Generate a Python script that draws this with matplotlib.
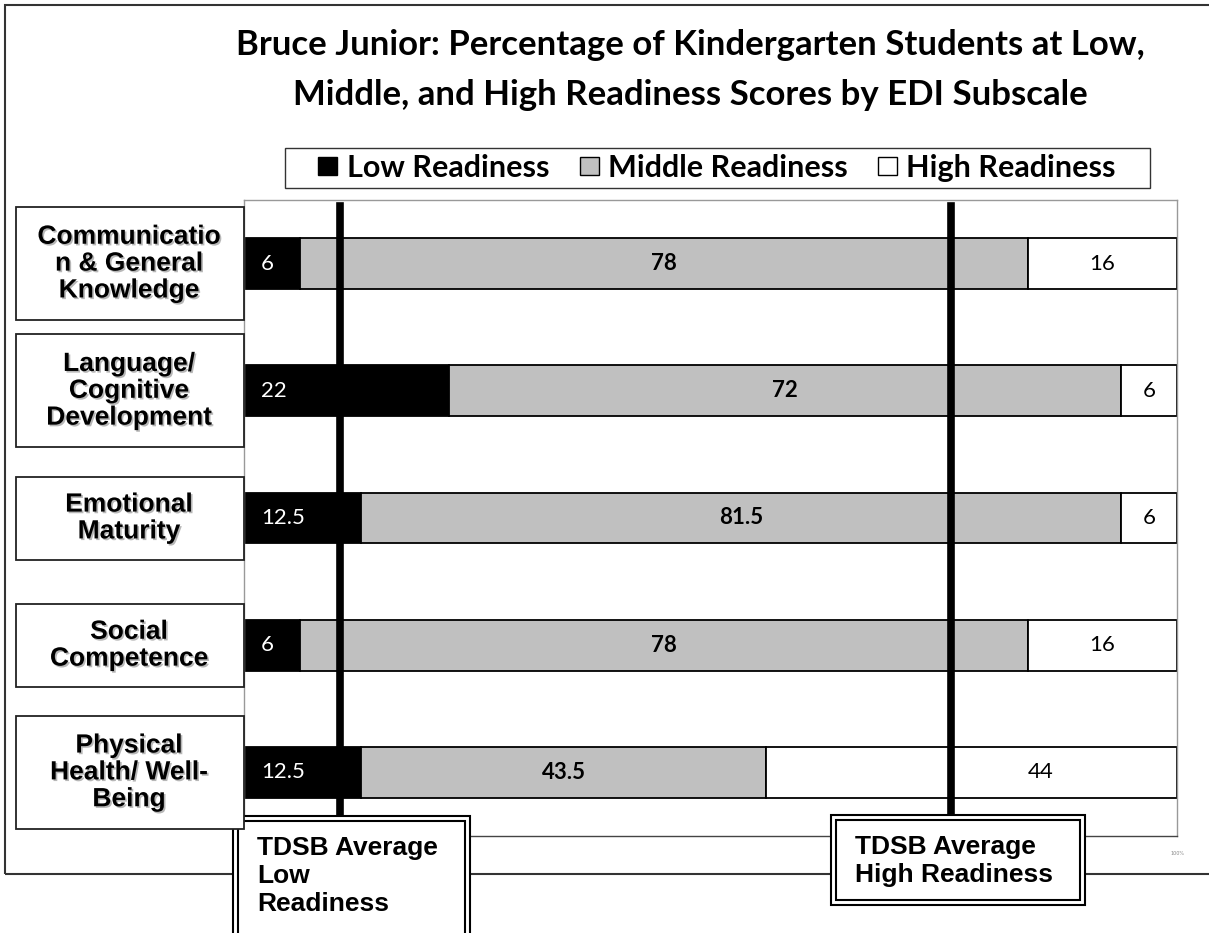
import matplotlib
matplotlib.use("Agg")
import matplotlib.pyplot as plt
import matplotlib.patheffects as pe
from matplotlib.patches import Rectangle, Patch

# EDI subscales and percentage of students in each readiness band
categories = [
    "Communicatio\nn & General\nKnowledge",
    "Language/\nCognitive\nDevelopment",
    "Emotional\nMaturity",
    "Social\nCompetence",
    "Physical\nHealth/ Well-\nBeing",
]
low = [6, 22, 12.5, 6, 12.5]
middle = [78, 72, 81.5, 78, 43.5]
high = [16, 6, 6, 16, 44]
series_names = ["Low Readiness", "Middle Readiness", "High Readiness"]
series_colors = ["black", "#c0c0c0", "white"]

# board averages shown as vertical reference lines
tdsb_low_avg = 10.3
tdsb_high_avg = 24.2

W, H = 1209, 933
fig = plt.figure(figsize=(W / 100, H / 100), dpi=100)


def fx(px):
    return px / W


def fy(py):
    return 1 - py / H


title_font = ["Lato", "DejaVu Sans"]
label_font = ["Liberation Sans", "DejaVu Sans"]

# outer chart frame
fig.patches.append(Rectangle((fx(5), fy(874)), 1.2, fy(5) - fy(874), transform=fig.transFigure,
                             fill=False, edgecolor="#333333", lw=1.5, zorder=0.5, clip_on=False))

ax = fig.add_axes([fx(244), fy(836), fx(1177) - fx(244), fy(200) - fy(836)])
y = list(range(len(categories)))
mid_left = low
high_left = [a + b for a, b in zip(low, middle)]
high_line = 100 - tdsb_high_avg

ax.barh(y, low, height=0.4, color=series_colors[0], edgecolor="black", lw=1.3, zorder=2)
ax.barh(y, middle, left=mid_left, height=0.4, color=series_colors[1], edgecolor="black", lw=1.3, zorder=2)
ax.barh(y, high, left=high_left, height=0.4, color=series_colors[2], edgecolor="black", lw=1.3, zorder=2)

ax.set_xlim(0, 100)
ax.set_ylim(len(categories) - 0.5, -0.5)
ax.set_yticks([])
ax.set_xticks([100], ["100%"], fontsize=3.5, color="#888888")
ax.tick_params(axis="x", length=0, pad=11)
for name, sp in ax.spines.items():
    sp.set_color("#999999")
    sp.set_linewidth(1)
ax.spines["bottom"].set_color("#444444")

# value labels
for i in y:
    ax.text(1.8, i, f"{low[i]:g}", color="white", ha="left", va="center",
            fontsize=16, family=title_font, zorder=4)
    ax.text(mid_left[i] + middle[i] / 2, i, f"{middle[i]:g}", color="black", ha="center",
            va="center", fontsize=16, weight="bold", family=title_font, zorder=4)
    # keep the label clear of the high-readiness line
    hx = high_left[i] + high[i] / 2
    if high_left[i] < high_line:
        hx = (high_line + 100) / 2 - 2.5
    ax.text(hx, i, f"{high[i]:g}", color="black", ha="center",
            va="center", fontsize=16, family=title_font, zorder=4)

# TDSB average lines
ax.axvline(tdsb_low_avg, ymin=0.033, ymax=0.99, color="black", lw=5.5, zorder=3)
ax.axvline(high_line, ymin=0.033, ymax=0.99, color="black", lw=5.5, zorder=3)

# category label boxes, centred on their bars
shadow = [pe.SimplePatchShadow(offset=(1.2, -1.2), shadow_rgbFace="#888888", alpha=0.6), pe.Normal()]
for i, cat in enumerate(categories):
    yc = ax.transData.transform((0, i))[1] / H
    n = cat.count("\n") + 1
    bh = (113 if n == 3 else 83) / H
    fig.patches.append(Rectangle((fx(16), yc - bh / 2), fx(244) - fx(16), bh, transform=fig.transFigure,
                                 facecolor="white", edgecolor="#222222", lw=1.3, zorder=5))
    fig.text(fx(129), yc, cat, ha="center", va="center", fontsize=19, weight="bold",
             family=label_font, linespacing=1.15, zorder=6, path_effects=shadow)


def double_box(x0, y0, x1, y1):
    fig.patches.append(Rectangle((fx(x0), fy(y1)), fx(x1) - fx(x0), fy(y0) - fy(y1), transform=fig.transFigure,
                                 facecolor="white", edgecolor="black", lw=1.5, zorder=4, clip_on=False))
    g = 5
    fig.patches.append(Rectangle((fx(x0 + g), fy(y1 - g)), fx(x1 - g) - fx(x0 + g), fy(y0 + g) - fy(y1 - g),
                                 transform=fig.transFigure, fill=False, edgecolor="black", lw=1.5,
                                 zorder=4, clip_on=False))


double_box(233, 816, 470, 970)
fig.text(fx(257), fy(876), "TDSB Average\nLow\nReadiness", ha="left", va="center", fontsize=19,
         weight="bold", family=label_font, linespacing=1.2, zorder=6)
double_box(831, 815, 1085, 905)
fig.text(fx(855), fy(861), "TDSB Average\nHigh Readiness", ha="left", va="center", fontsize=19,
         weight="bold", family=label_font, linespacing=1.2, zorder=6)

# legend
fig.patches.append(Rectangle((fx(285), fy(188)), fx(1150) - fx(285), fy(148) - fy(188), transform=fig.transFigure,
                             facecolor="white", edgecolor="#333333", lw=1, zorder=1))
handles = [Patch(facecolor=c, edgecolor="black", lw=1) for c in series_colors]
fig.legend(handles, series_names, loc="center", bbox_to_anchor=(fx(717), fy(168)), ncol=3, frameon=False,
           prop={"family": title_font, "weight": "bold", "size": 22}, handlelength=0.62, handleheight=0.5,
           handletextpad=0.3, columnspacing=1.0)

fig.text(fx(690), fy(70), "Bruce Junior: Percentage of Kindergarten Students at Low,\n"
         "Middle, and High Readiness Scores by EDI Subscale", ha="center", va="center",
         fontsize=25, weight="bold", family=title_font, linespacing=1.7)

fig.savefig("out.png", dpi=100)
